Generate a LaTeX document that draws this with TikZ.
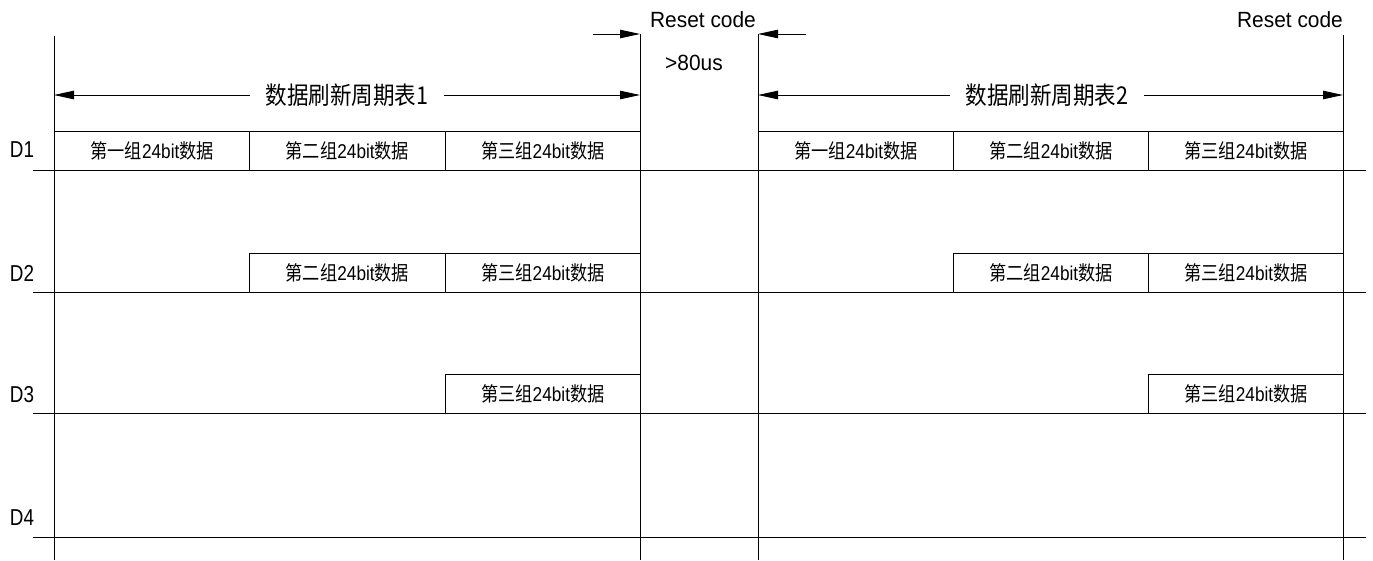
\documentclass[tikz,border=0pt]{standalone}
\usepackage{fontspec}
\setmainfont{Liberation Sans}
\newfontfamily\cjk{Noto Sans CJK SC}
\usetikzlibrary{arrows.meta}
\newcommand\grp[1]{\scalebox{0.86}[1]{{\cjk 第#1组}24bit{\cjk 数据}}}
\begin{document}
\begin{tikzpicture}[x=1pt,y=-1pt,line width=0.9pt,
  arr/.style={-{Triangle[length=20pt,width=8.5pt]}},
  cell/.style={draw,minimum width=195.33pt,minimum height=39pt,anchor=north west,inner sep=0pt,font=\fontsize{20}{20}\selectfont},
  cellb/.style={cell,minimum width=195pt},
  dlab/.style={font=\fontsize{23}{23}\selectfont,inner sep=0pt},
  rlab/.style={font=\fontsize{22}{22}\selectfont,inner sep=0pt},
  title/.style={font=\fontsize{24.5}{24.5}\selectfont\cjk,inner sep=0pt,minimum width=194pt}]
\useasboundingbox (0,0) rectangle (1373,560);
% row lines
\foreach \y in {170,292,413,537} \draw (33,\y) -- (1366,\y);
% vertical lines
\coordinate (v1t) at (54,36);   \coordinate (v1b) at (54,560);
\coordinate (v2t) at (640,34);  \coordinate (v2b) at (640,560);
\coordinate (v3t) at (758,34);  \coordinate (v3b) at (758,560);
\coordinate (v4t) at (1343,35); \coordinate (v4b) at (1343,560);
\draw (v1t) -- (v1b);
\draw (v2t) -- (v2b);
\draw (v3t) -- (v3b);
\draw (v4t) -- (v4b);
% row labels
\node[dlab] (d1) at (22,150) {\scalebox{0.82}[1]{D1}};
\node[dlab] (d2) at (22,273) {\scalebox{0.82}[1]{D2}};
\node[dlab] (d3) at (22,395) {\scalebox{0.82}[1]{D3}};
\node[dlab] (d4) at (22,518) {\scalebox{0.82}[1]{D4}};
% D1 cells
\node[cell] (a11) at (54,131) {\grp{一}};
\node[cell] (a12) at (249.33,131) {\grp{二}};
\node[cell] (a13) at (444.67,131) {\grp{三}};
\node[cellb] (b11) at (758,131) {\grp{一}};
\node[cellb] (b12) at (953,131) {\grp{二}};
\node[cellb] (b13) at (1148,131) {\grp{三}};
% D2 cells
\node[cell] (a22) at (249.33,253) {\grp{二}};
\node[cell] (a23) at (444.67,253) {\grp{三}};
\node[cellb] (b22) at (953,253) {\grp{二}};
\node[cellb] (b23) at (1148,253) {\grp{三}};
% D3 cells
\node[cell] (a33) at (444.67,374) {\grp{三}};
\node[cellb] (b33) at (1148,374) {\grp{三}};
% period arrows
\node[title] (t1) at (347,95) {\scalebox{0.88}[1]{数据刷新周期表1}};
\node[title] (t2) at (1047,95) {\scalebox{0.88}[1]{数据刷新周期表2}};
\coordinate (p1l) at (54,95);  \coordinate (p1r) at (640,95);
\coordinate (p2l) at (758,95); \coordinate (p2r) at (1343,95);
\draw[arr] (t1.west) -- (p1l);
\draw[arr] (t1.east) -- (p1r);
\draw[arr] (t2.west) -- (p2l);
\draw[arr] (t2.east) -- (p2r);
% reset code
\coordinate (r1) at (593,34); \coordinate (r2) at (806,34);
\draw[arr] (r1) -- (v2t);
\draw[arr] (r2) -- (v3t);
\node[rlab] (rc1) at (703,20) {\scalebox{0.95}[1]{Reset code}};
\node[rlab] (us) at (694,63) {\scalebox{0.95}[1]{>80us}};
\node[rlab] (rc2) at (1290,20) {\scalebox{0.95}[1]{Reset code}};
\end{tikzpicture}
\end{document}
